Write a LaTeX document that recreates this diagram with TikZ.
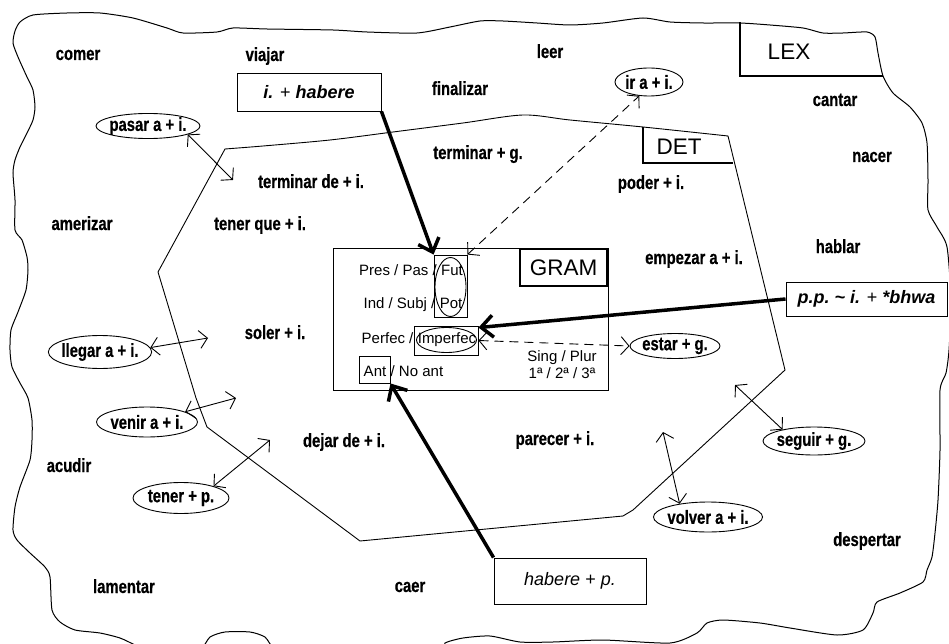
\documentclass[tikz,border=0pt]{standalone}
\usepackage{fontspec}
\setmainfont{Liberation Sans}
\newfontfamily\lexfont[FakeStretch=0.78, FakeBold=0.5]{Liberation Sans}
\usetikzlibrary{arrows.meta}
\usetikzlibrary{shapes.geometric}

\begin{document}
\begin{tikzpicture}[x=1pt, y=-1pt,
  lex/.style={font=\lexfont\bfseries\fontsize{19}{19}\selectfont, anchor=base, inner sep=0pt},
  peri/.style={draw, ellipse, line width=.9pt, inner xsep=-2pt, inner ysep=0pt, font=\lexfont\bfseries\fontsize{19}{19}\selectfont},
  caja/.style={draw, line width=.9pt, inner sep=0pt, font=\fontsize{18}{18}\selectfont},
  marco/.style={draw, line width=.9pt, inner sep=0pt},
  nivel/.style={font=\fontsize{22.5}{22.5}\selectfont, inner sep=0pt},
  gram/.style={font=\fontsize{15}{15}\selectfont, inner xsep=2pt, inner ysep=0pt},
  gruesa/.style={line width=3.5pt, -{Straight Barb[length=12pt,width=22pt]}},
  doble/.style={line width=.9pt, {Straight Barb[length=8pt,width=18pt]}-{Straight Barb[length=8pt,width=18pt]}},
  trazo/.style={dash pattern=on 9pt off 6pt}]
\useasboundingbox (0,0) rectangle (949,644);
\draw[line width=1pt] plot[smooth cycle, tension=.4] coordinates {
 (20,22) (33,15) (67,13) (100,13) (133,18) (167,28) (183,33) (217,32) (233,28) (267,29) (333,30) (367,32) (417,33) (450,27) (480,21)
 (503,21) (537,23) (570,25) (603,23) (643,18) (670,22) (703,23) (740,23) (770,25) (803,28) (823,33) (843,33) (867,32) (875,37) (878,53)
 (883,76) (893,93) (910,107) (922,123) (927,143) (928,180) (928,210) (937,227) (947,247) (951,300) (949,350) (946,373) (940,390) (940,450)
 (938,500) (935,533) (932,557) (927,570) (923,582) (900,593) (877,602) (873,613) (863,630) (837,635) (790,628) (760,623) (723,620)
 (707,623) (697,633) (670,643) (603,640) (553,642) (520,642) (490,636) (463,638) (445,643) (440,652) (360,654) (280,650) (265,637)
 (250,632) (225,632) (210,637) (198,650) (150,652) (135,645) (120,638) (100,633) (75,630) (60,622) (52,610) (50,577) (45,567) (30,553)
 (17,540) (13,530) (15,507) (20,487) (30,460) (32,440) (32,420) (28,398) (20,383) (12,367) (10,350) (11,330) (18,312) (26,290) (28,270)
 (27,257) (22,240) (15,230) (15,200) (13,173) (15,160) (20,147) (27,133) (33,120) (35,107) (33,90) (27,77) (18,57) (13,43) (15,31)};
\draw[line width=.9pt] plot[smooth, tension=.5] coordinates {(225,149) (263,146) (330,140) (393,132) (463,123) (523,115) (570,120) (643,127) (728,136)}
 -- (785,370) -- (633,510) -- (623,516) -- (360,541) -- (207,427) -- (196,398) -- (158,272) -- cycle;
\node[nivel] (lex) at (789,52) {LEX};
\draw[line width=2.5pt] (740,22) |- (883,76);
\node[nivel] (det) at (679,147) {DET};
\draw[line width=2.5pt] (643,127) |- (733,163);
\node[marco, minimum width=275pt, minimum height=142pt] (gram) at (470.5,319) {};
\node[nivel, draw, line width=2.5pt, minimum width=87pt, minimum height=37pt, anchor=north east] (gramlab) at (gram.north east) {GRAM};
\foreach \nm/\x/\y/\t in {comer/78/60/comer, viajar/265/61/viajar, leer/550/58/leer, finalizar/460/95/finalizar,
  cantar/835/106/cantar, nacer/872/162/nacer, termg/478/159/terminar + g., poder/651/189/poder + i.,
  termde/311/188/terminar de + i., amerizar/82/230/amerizar, tenerque/260/230/tener que + i., hablar/838/253/hablar,
  empezar/694/264/empezar a + i., soler/275/339/soler + i., dejar/344/447/dejar de + i., parecer/555/445/parecer + i.,
  acudir/69/472/acudir, despertar/867/546/despertar, lamentar/124/593/lamentar, caer/410/592/caer}
  \node[lex] (\nm) at (\x,\y) {\t};
\foreach \nm/\x/\y/\w/\h/\t in {pasar/148/126/104/24/pasar a + i., ira/649/82/68/28/ir a + i., llegar/100/352/103/33/llegar a + i.,
  venir/147/422/101/30/venir a + i., tener/181/498/96/31/tener + p., estar/675/346/90/25/estar + g.,
  seguir/814/441/102/28/seguir + g., volver/708/517/100/30/volver a + i.}
  \node[peri, minimum width=\w*1pt, minimum height=\h*1pt] (\nm) at (\x,\y) {\t};
\node[gram, anchor=base] (fut) at (452,275) {Fut};
\node[gram, anchor=base east] (prespas) at (fut.base west) {Pres / Pas /};
\node[gram, anchor=base] (pot) at (451,308) {Pot};
\node[gram, anchor=base east] (indsubj) at (pot.base west) {Ind / Subj /};
\node[gram, anchor=base] (imp) at (447,343) {Imperfec};
\node[gram, anchor=base east] (perfec) at (imp.base west) {Perfec /};
\node[gram, anchor=base] (ant) at (375,376) {Ant};
\node[gram, anchor=base west] (noant) at (ant.base east) {/ No ant};
\node[gram, anchor=base] (numero) at (562,361) {Sing / Plur};
\node[gram, anchor=base] (persona) at (562,378) {1ª / 2ª / 3ª};
\node[marco, minimum width=33pt, minimum height=62pt] (futbox) at (450.5,286) {};
\node[marco, ellipse, minimum width=31pt, minimum height=59pt] (futoval) at (450.5,287) {};
\node[marco, minimum width=64pt, minimum height=29pt] (impbox) at (446,340.5) {};
\node[marco, ellipse, minimum width=60pt, minimum height=25pt] (impoval) at (446.5,340) {};
\node[marco, minimum width=31pt, minimum height=27pt] (antbox) at (374.5,369.5) {};
\node[caja, minimum width=144pt, minimum height=38pt] (ihab) at (309,92) {\textbf{\textit{i.}} + \textbf{\textit{habere}}};
\node[caja, minimum width=161pt, minimum height=34pt] (ppbhwa) at (866.5,299) {\textbf{\textit{p.p.\ \textasciitilde\ i.}} + \textbf{\textit{*bhwa}}};
\node[caja, minimum width=152pt, minimum height=46pt] (habp) at (570,581) {\textit{habere} + \textit{p.}};
\coordinate (pasarfin) at (233,180);
\coordinate (llegarfin) at (208,338);
\coordinate (venirfin) at (236,398);
\coordinate (tenerfin) at (270,440);
\coordinate (seguirfin) at (735,385);
\coordinate (volverfin) at (663,432);
\foreach \a/\b in {pasar.-12/pasarfin, llegar.5/llegarfin, venir.15/venirfin, tener.20/tenerfin, seguir.160/seguirfin, volver.155/volverfin}
  \draw[doble] (\a) -- (\b);
\draw[doble, trazo] (futbox.north east) -- (ira.235);
\draw[doble, trazo] (impbox.east) -- (estar.west);
\draw[gruesa] (ihab.south east) -- (futbox.north west);
\draw[gruesa] (ppbhwa.west) -- ([yshift=-2pt]impbox.north east);
\draw[gruesa] (habp.north west) -- (antbox.south east);
\end{tikzpicture}
\end{document}
